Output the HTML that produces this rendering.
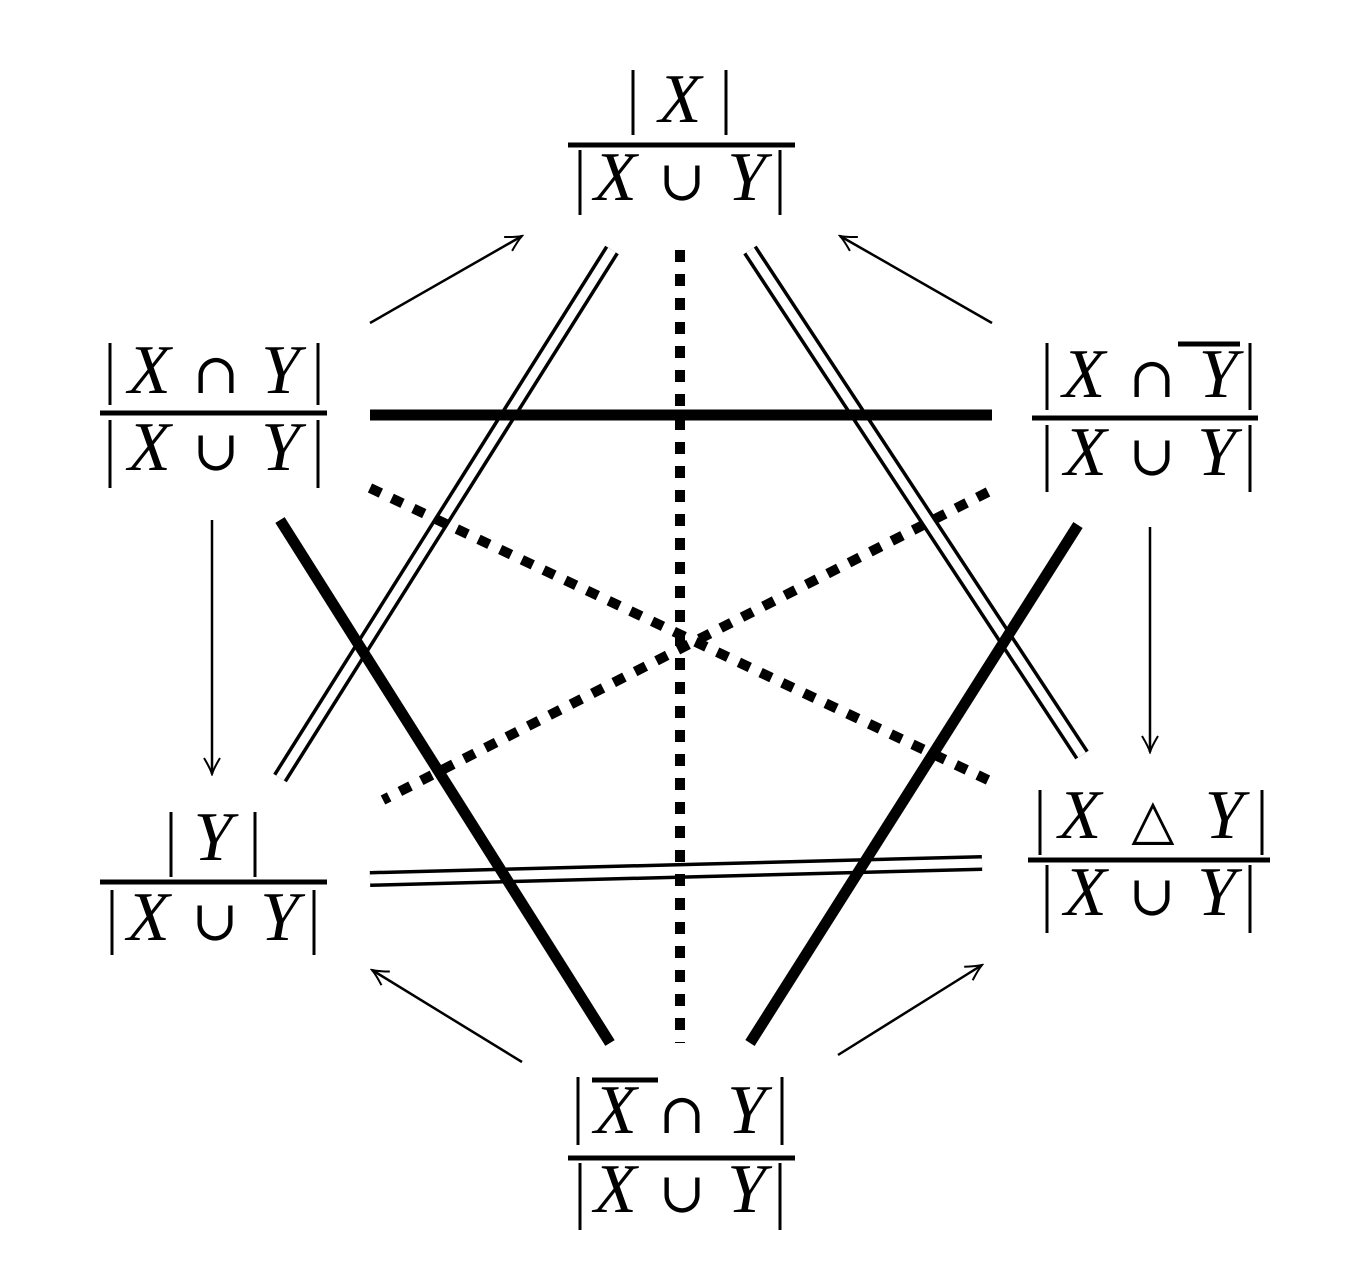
<!DOCTYPE html>
<html><head><meta charset="utf-8"><style>html,body{margin:0;padding:0;background:#fff}svg{display:block}</style></head>
<body>
<svg width="1359" height="1284" viewBox="0 0 1359 1284" xmlns="http://www.w3.org/2000/svg">
<defs>
<marker id="ah" viewBox="0 0 20 20" refX="18" refY="10" markerWidth="20" markerHeight="20" markerUnits="userSpaceOnUse" orient="auto">
<path d="M2,2 Q12,8 18,10 Q12,12 2,18" fill="none" stroke="#000" stroke-width="2"/>
</marker>
</defs>
<g stroke="#000" fill="none">
<g stroke-width="16">
<line x1="612" y1="250" x2="280" y2="778"/>
<line x1="750" y1="250" x2="1082" y2="755"/>
<line x1="370" y1="879" x2="982" y2="863"/>
</g>
<g stroke="#fff" stroke-width="9">
<line x1="612" y1="250" x2="280" y2="778"/>
<line x1="750" y1="250" x2="1082" y2="755"/>
<line x1="370" y1="879" x2="982" y2="863"/>
</g>
<g stroke-width="10" stroke-dasharray="12 12">
<line x1="680" y1="250" x2="680" y2="1043"/>
<line x1="370" y1="488" x2="988" y2="780"/>
<line x1="988" y1="492" x2="383" y2="800"/>
</g>
<g stroke-width="11">
<line x1="370" y1="415" x2="992" y2="415"/>
<line x1="280" y1="520" x2="610" y2="1043"/>
<line x1="1078" y1="525" x2="750" y2="1043"/>
</g>
<g stroke-width="2.5" marker-end="url(#ah)">
<line x1="370" y1="323" x2="522" y2="236"/>
<line x1="992" y1="323" x2="840" y2="236"/>
<line x1="212" y1="520" x2="212" y2="774"/>
<line x1="1150" y1="527" x2="1150" y2="752"/>
<line x1="522" y1="1062" x2="372" y2="970"/>
<line x1="838" y1="1055" x2="982" y2="965"/>
</g>
<g stroke-width="5">
<line x1="568" y1="145" x2="795" y2="145"/>
<line x1="100" y1="413" x2="327" y2="413"/>
<line x1="1032" y1="418" x2="1258" y2="418"/>
<line x1="100" y1="882" x2="327" y2="882"/>
<line x1="1028" y1="860" x2="1270" y2="860"/>
<line x1="568" y1="1158" x2="795" y2="1158"/>
<line x1="1178" y1="344" x2="1240" y2="344"/>
<line x1="592" y1="1080" x2="658" y2="1080"/>
</g>
<g stroke-width="3">
<line x1="633" y1="70" x2="633" y2="135"/><line x1="726" y1="70" x2="726" y2="135"/>
<line x1="580" y1="150" x2="580" y2="215"/><line x1="780" y1="150" x2="780" y2="215"/>
<line x1="110" y1="343" x2="110" y2="405"/><line x1="318" y1="343" x2="318" y2="405"/>
<line x1="110" y1="420" x2="110" y2="488"/><line x1="318" y1="420" x2="318" y2="488"/>
<line x1="1047" y1="343" x2="1047" y2="410"/><line x1="1250" y1="343" x2="1250" y2="410"/>
<line x1="1047" y1="425" x2="1047" y2="492"/><line x1="1250" y1="425" x2="1250" y2="492"/>
<line x1="171" y1="812" x2="171" y2="877"/><line x1="255" y1="812" x2="255" y2="877"/>
<line x1="112" y1="890" x2="112" y2="955"/><line x1="314" y1="890" x2="314" y2="955"/>
<line x1="1040" y1="790" x2="1040" y2="855"/><line x1="1262" y1="790" x2="1262" y2="855"/>
<line x1="1047" y1="865" x2="1047" y2="933"/><line x1="1250" y1="865" x2="1250" y2="933"/>
<line x1="578" y1="1077" x2="578" y2="1145"/><line x1="782" y1="1077" x2="782" y2="1145"/>
<line x1="580" y1="1163" x2="580" y2="1230"/><line x1="780" y1="1163" x2="780" y2="1230"/>
</g>
</g>
<g font-family="Liberation Serif, DejaVu Serif, serif" font-size="70" fill="#000" text-anchor="middle">
<text x="680" y="122" font-style="italic">X</text>
<text x="680" y="200" textLength="172" lengthAdjust="spacing"><tspan font-style="italic">X</tspan><tspan font-family="DejaVu Serif" font-size="56">∪</tspan><tspan font-style="italic">Y</tspan></text>
<text x="214" y="393" textLength="172" lengthAdjust="spacing"><tspan font-style="italic">X</tspan><tspan font-family="DejaVu Serif" font-size="56">∩</tspan><tspan font-style="italic">Y</tspan></text>
<text x="214" y="470" textLength="172" lengthAdjust="spacing"><tspan font-style="italic">X</tspan><tspan font-family="DejaVu Serif" font-size="56">∪</tspan><tspan font-style="italic">Y</tspan></text>
<text x="1150" y="397" textLength="175" lengthAdjust="spacing"><tspan font-style="italic">X</tspan><tspan font-family="DejaVu Serif" font-size="56">∩</tspan><tspan font-style="italic">Y</tspan></text>
<text x="1150" y="475" textLength="172" lengthAdjust="spacing"><tspan font-style="italic">X</tspan><tspan font-family="DejaVu Serif" font-size="56">∪</tspan><tspan font-style="italic">Y</tspan></text>
<text x="213" y="860" font-style="italic">Y</text>
<text x="213" y="940" textLength="172" lengthAdjust="spacing"><tspan font-style="italic">X</tspan><tspan font-family="DejaVu Serif" font-size="56">∪</tspan><tspan font-style="italic">Y</tspan></text>
<text x="1151" y="838" textLength="185" lengthAdjust="spacing"><tspan font-style="italic">X</tspan><tspan font-family="DejaVu Serif" font-size="56">△</tspan><tspan font-style="italic">Y</tspan></text>
<text x="1150" y="915" textLength="172" lengthAdjust="spacing"><tspan font-style="italic">X</tspan><tspan font-family="DejaVu Serif" font-size="56">∪</tspan><tspan font-style="italic">Y</tspan></text>
<text x="680" y="1133" textLength="172" lengthAdjust="spacing"><tspan font-style="italic">X</tspan><tspan font-family="DejaVu Serif" font-size="56">∩</tspan><tspan font-style="italic">Y</tspan></text>
<text x="680" y="1212" textLength="172" lengthAdjust="spacing"><tspan font-style="italic">X</tspan><tspan font-family="DejaVu Serif" font-size="56">∪</tspan><tspan font-style="italic">Y</tspan></text>
</g>
</svg>
</body></html>
